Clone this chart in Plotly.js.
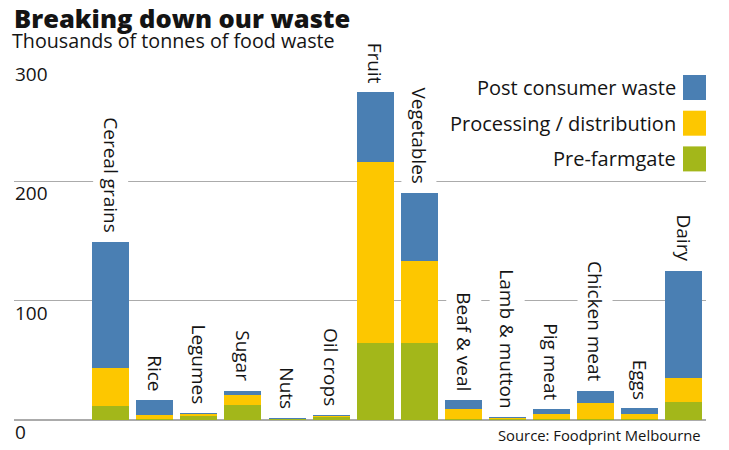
<!DOCTYPE html>
<html>
<head>
<meta charset="utf-8">
<script src="https://cdn.plot.ly/plotly-3.0.1.min.js"></script>
<style>html,body{margin:0;padding:0;background:#fff;}#chart{width:729px;height:450px;}</style>
</head>
<body>
<div id="chart"></div>
<script>
// ---- data ----
var categories = ["Cereal grains","Rice","Legumes","Sugar","Nuts","Oil crops","Fruit","Vegetables","Beaf & veal","Lamb & mutton","Pig meat","Chicken meat","Eggs","Dairy"];
var preFarmgate  = [12.0, 0.5, 3.0, 12.6, 0.6, 2.5, 64.8, 64.3, 0.8, 1.0, 0.6, 1.0, 0.8, 15.3];
var processing   = [31.8, 3.5, 1.8, 8.4, 0.4, 1.0, 151.7, 69.0, 8.2, 0.6, 4.2, 13.0, 4.0, 20.2];
var postConsumer = [105.4, 12.8, 0.8, 3.6, 0.4, 0.7, 58.1, 57.2, 7.8, 0.7, 4.2, 10.3, 5.0, 89.6];
var seriesNames  = ["Post consumer waste","Processing / distribution","Pre-farmgate"];
var yTicks = [0, 100, 200, 300];
var titleText = "Breaking down our waste";
var subtitleText = "Thousands of tonnes of food waste";
var sourceText = "Source: Foodprint Melbourne";

// ---- styling ----
var BLUE = "#4a7fb3", YELLOW = "#fdc700", GREEN = "#a3b71a";
var seriesColors = [BLUE, YELLOW, GREEN];
var TXT = "#141414";
var FONT = "'Open Sans', Lato, sans-serif";
var W = 729, H = 450;
var M = {l: 14, r: 23, t: 62, b: 30};
var plotW = W - M.l - M.r, plotH = H - M.t - M.b;

var traces = [
  {type: "bar", name: seriesNames[2], x: categories, y: preFarmgate, marker: {color: GREEN}},
  {type: "bar", name: seriesNames[1], x: categories, y: processing, marker: {color: YELLOW}},
  {type: "bar", name: seriesNames[0], x: categories, y: postConsumer, marker: {color: BLUE}}
];
traces.forEach(function(t){ t.hoverinfo = "skip"; t.showlegend = false; });

var annotations = [];
var shapes = [];

// category labels above each bar
categories.forEach(function(c, i){
  var total = preFarmgate[i] + processing[i] + postConsumer[i];
  annotations.push({
    x: c, y: total, xref: "x", yref: "y",
    text: c, showarrow: false, textangle: 90,
    xanchor: "center", yanchor: "bottom", yshift: 4,
    bgcolor: "#ffffff", borderpad: 4,
    font: {family: FONT, size: 19, color: TXT}
  });
});

// y tick labels below gridlines
yTicks.forEach(function(v){
  annotations.push({
    x: 0, xref: "paper", y: v, yref: "y",
    text: String(v), showarrow: false,
    xanchor: "left", yanchor: "middle", yshift: -12, xshift: -1,
    font: {family: FONT, size: 19, color: TXT}
  });
});

// subtitle
annotations.push({
  x: 0, xref: "paper", xshift: -4, y: 1, yref: "paper", yshift: 22,
  text: subtitleText, showarrow: false, xanchor: "left", yanchor: "middle",
  font: {family: FONT, size: 19.7, color: TXT}
});

// source
annotations.push({
  x: 1, xref: "paper", xshift: -3, y: 0, yref: "paper", yshift: -15,
  text: sourceText, showarrow: false, xanchor: "right", yanchor: "middle",
  font: {family: FONT, size: 14.8, color: TXT}
});

// custom legend (text to the left of swatch)
function pxToPaperY(py){ return (M.t + plotH - py) / plotH; }
function pxToPaperX(px){ return (px - M.l) / plotW; }
var legTop = 75, legPitch = 35.7, boxH = 25, boxW = 23, boxRight = 706;
seriesNames.forEach(function(name, i){
  var top = legTop + i * legPitch;
  shapes.push({
    type: "rect", xref: "paper", yref: "paper",
    x0: pxToPaperX(boxRight - boxW), x1: pxToPaperX(boxRight),
    y0: pxToPaperY(top + boxH), y1: pxToPaperY(top),
    fillcolor: seriesColors[i], line: {width: 0}, layer: "above"
  });
  annotations.push({
    x: pxToPaperX(boxRight - boxW - 5), xref: "paper",
    y: pxToPaperY(top + boxH / 2), yref: "paper",
    text: name, showarrow: false, xanchor: "right", yanchor: "middle",
    font: {family: FONT, size: 20, color: TXT}
  });
});

var layout = {
  width: W, height: H,
  margin: M,
  paper_bgcolor: "#ffffff", plot_bgcolor: "#ffffff",
  barmode: "stack", bargap: 0.16,
  font: {family: FONT, color: TXT},
  title: {
    text: titleText,
    x: 0, xref: "paper", xanchor: "left",
    y: 1 - 19 / H, yref: "container", yanchor: "middle",
    font: {family: FONT, size: 25.5, color: TXT, weight: 800}
  },
  xaxis: {
    type: "category", range: [-2.194, 13.506],
    showticklabels: false, showgrid: false, zeroline: false, showline: false, ticks: ""
  },
  yaxis: {
    range: [0, 300], tickvals: yTicks, showticklabels: false,
    showgrid: true, gridcolor: "#ababab", gridwidth: 1.5,
    zeroline: true, zerolinecolor: "#ababab", zerolinewidth: 1.5,
    showline: false, ticks: ""
  },
  annotations: annotations,
  shapes: shapes,
  showlegend: false
};

Plotly.newPlot("chart", traces, layout, {displayModeBar: false, staticPlot: true});
</script>
</body>
</html>
